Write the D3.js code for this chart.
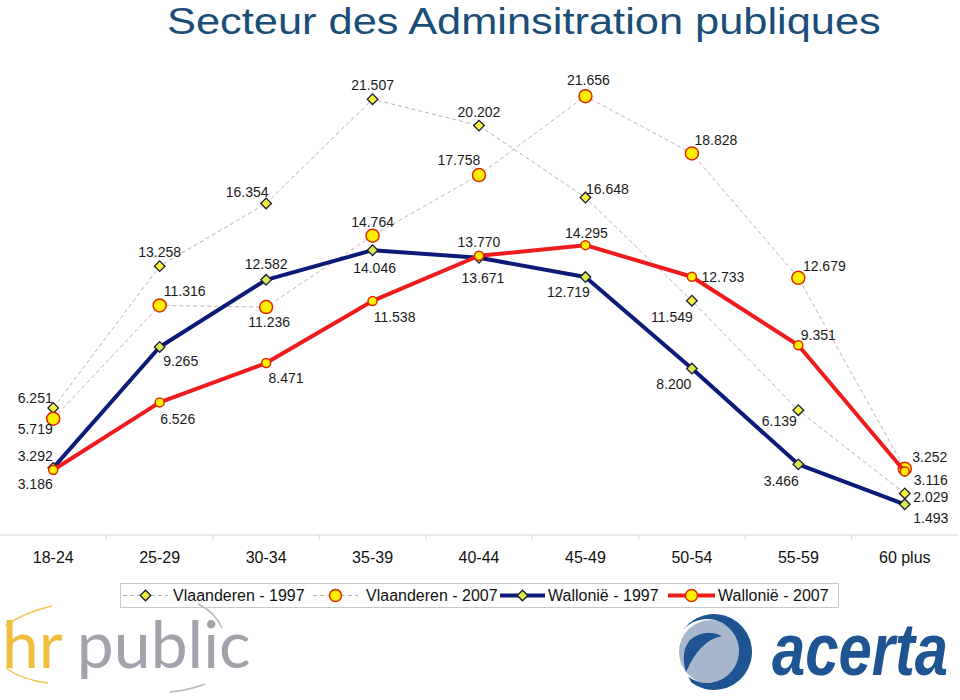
<!DOCTYPE html>
<html>
<head>
<meta charset="utf-8">
<script src="https://cdn.jsdelivr.net/npm/d3@7"></script>
<style>
  html, body { margin: 0; padding: 0; background: #fff; }
  svg { display: block; }
</style>
</head>
<body>
<svg id="chart" width="960" height="700"></svg>
<script>
// ---------- DATA ----------
const categories = ["18-24","25-29","30-34","35-39","40-44","45-49","50-54","55-59","60 plus"];
const vlaanderen1997 = [6.251, 13.258, 16.354, 21.507, 20.202, 16.648, 11.549, 6.139, 2.029];
const vlaanderen2007 = [5.719, 11.316, 11.236, 14.764, 17.758, 21.656, 18.828, 12.679, 3.252];
const wallonie1997   = [3.292, 9.265, 12.582, 14.046, 13.671, 12.719, 8.200, 3.466, 1.493];
const wallonie2007   = [3.186, 6.526, 8.471, 11.538, 13.770, 14.295, 12.733, 9.351, 3.116];
const seriesNames = ["Vlaanderen - 1997", "Vlaanderen - 2007", "Wallonië - 1997", "Wallonië - 2007"];
const titleText = "Secteur des Adminsitration publiques";

// ---------- LABEL PLACEMENT (offsets of value labels from their point) ----------
const labelOffsets = [
  [[-18,-10],[0,-14],[-19,-12],[0,-14],[0,-14],[22,-9],[-20,16],[-19,11],[26,4]],
  [[-18,10],[25,-14],[3,15],[0,-14],[-20,-15],[3,-16],[24,-13],[26,-12],[25,-12]],
  [[-18,-12],[21,14],[0,-16],[2,18],[4,20],[-17,15],[-18,15],[-17,17],[26,14]],
  [[-18,14],[18,17],[20,15],[22,16],[0,-14],[1,-12],[31,0],[20,-10],[26,9]]
];

// ---------- STYLES ----------
const styles = [
  {line: "#b4b4b4", width: 1, dash: "4,3", marker: "diamond", fill: "#f6f43c", stroke: "#1c1c3c", size: 56},
  {line: "#cfb0b0", width: 1, dash: "4,3", marker: "circle", fill: "#ffee00", stroke: "#dd2a00", r: 6.5},
  {line: "#0c1a78", width: 4, dash: null, marker: "diamond", fill: "#d8ea4e", stroke: "#1c1c3c", size: 56},
  {line: "#ee1c1c", width: 4, dash: null, marker: "circle", fill: "#ffee00", stroke: "#dd2a00", r: 4.5}
];
const seriesValues = [vlaanderen1997, vlaanderen2007, wallonie1997, wallonie2007];

const svg = d3.select("#chart");
const font = "'Liberation Sans', Arial, sans-serif";

// fit a text horizontally into a width by scaling its group
function fittedText(parent, tx, ty, width, str, attrs) {
  const g = parent.append("g");
  const t = g.append("text").attr("x", 0).attr("y", 0).text(str);
  Object.entries(attrs).forEach(([k, v]) => t.attr(k, v));
  const w = t.node().getComputedTextLength();
  g.attr("transform", `translate(${tx},${ty}) scale(${width / w},1)`);
  return g;
}

// ---------- SCALES ----------
const x = d3.scaleBand().domain(categories).range([0, 958]).padding(0);
const cx = c => x(c) + x.bandwidth() / 2;
const y = d3.scaleLinear().domain([0, 22]).range([534.5, 89.2]);

// ---------- TITLE ----------
fittedText(svg, 167, 34, 714, titleText, {
  "font-family": "'Liberation Sans', Arial, sans-serif",
  "font-size": 37, "fill": "#1a4e78"
});

// ---------- X AXIS ----------
const axis = d3.axisBottom(x).tickSize(0).tickPadding(17);
const gx = svg.append("g").attr("transform", `translate(0,${y(0)})`).call(axis);
gx.select(".domain").attr("stroke", "#d4d4d4");
gx.selectAll(".tick text").attr("font-family", font).attr("font-size", 16).attr("fill", "#111");
gx.selectAll(".sep").data(categories.slice(1)).enter().append("line")
  .attr("x1", d => x(d)).attr("x2", d => x(d))
  .attr("y1", 0).attr("y2", 5)
  .attr("stroke", "#d4d4d4");

// ---------- SERIES ----------
const line = d3.line().x((d, i) => cx(categories[i])).y(d => y(d));
const fmt = d3.format(".3f");

function drawMarker(g, st, px, py) {
  if (st.marker === "diamond") {
    g.append("path")
      .attr("d", d3.symbol().type(d3.symbolSquare).size(st.size)())
      .attr("transform", `translate(${px},${py}) rotate(45)`)
      .attr("fill", st.fill).attr("stroke", st.stroke).attr("stroke-width", 1.3);
  } else {
    g.append("circle").attr("cx", px).attr("cy", py).attr("r", st.r)
      .attr("fill", st.fill).attr("stroke", st.stroke).attr("stroke-width", 1.5);
  }
}

seriesValues.forEach((vals, s) => {
  const st = styles[s];
  const g = svg.append("g");
  g.append("path").datum(vals).attr("d", line)
    .attr("fill", "none").attr("stroke", st.line).attr("stroke-width", st.width)
    .attr("stroke-dasharray", st.dash).attr("stroke-linejoin", "round");
  vals.forEach((v, i) => drawMarker(g, st, cx(categories[i]), y(v)));
});

const lg = svg.append("g");
seriesValues.forEach((vals, s) => {
  vals.forEach((v, i) => {
    const off = labelOffsets[s][i];
    lg.append("text")
      .attr("x", cx(categories[i]) + off[0])
      .attr("y", y(v) + off[1])
      .attr("dy", "0.36em")
      .attr("text-anchor", "middle")
      .attr("font-family", font).attr("font-size", 14).attr("fill", "#1a1a1a")
      .text(fmt(v));
  });
});

// ---------- LEGEND ----------
const leg = svg.append("g");
leg.append("rect").attr("x", 120.5).attr("y", 583.5).attr("width", 718).attr("height", 24)
  .attr("fill", "#fff").attr("stroke", "#c8c8c8");
const legItems = [
  {x1: 123, x2: 168, tx: 173},
  {x1: 313, x2: 358, tx: 366},
  {x1: 500, x2: 545, tx: 548},
  {x1: 668, x2: 715, tx: 718}
];
legItems.forEach((it, s) => {
  const st = styles[s];
  const ly = 595.5;
  leg.append("line").attr("x1", it.x1).attr("x2", it.x2).attr("y1", ly).attr("y2", ly)
    .attr("stroke", st.line).attr("stroke-width", st.width).attr("stroke-dasharray", st.dash);
  const legSt = Object.assign({}, st, st.marker === "circle" ? {r: 6} : {});
  drawMarker(leg, legSt, (it.x1 + it.x2) / 2, ly);
  leg.append("text").attr("x", it.tx).attr("y", ly).attr("dy", "0.36em")
    .attr("font-family", font).attr("font-size", 16).attr("fill", "#111")
    .text(seriesNames[s]);
});

// ---------- LOGOS ----------
const hr = svg.append("g");
hr.append("path").attr("d", "M5,626 Q25,612 52,606").attr("fill", "none").attr("stroke", "#f0c850").attr("stroke-width", 1.5);
hr.append("path").attr("d", "M6,668 Q22,680 48,683").attr("fill", "none").attr("stroke", "#f0c850").attr("stroke-width", 1.5);
hr.append("path").attr("d", "M198,604 Q215,612 222,628").attr("fill", "none").attr("stroke", "#b8b8be").attr("stroke-width", 1.5);
hr.append("path").attr("d", "M170,692 Q190,690 205,684").attr("fill", "none").attr("stroke", "#b8b8be").attr("stroke-width", 1.5);
const hrText = hr.append("text").attr("x", 2).attr("y", 668)
  .attr("font-family", "Lato, 'Open Sans', sans-serif").attr("font-weight", 400).attr("font-size", 66);
hrText.append("tspan").attr("fill", "#f0be3c").text("hr");
hrText.append("tspan").attr("dx", 14).attr("fill", "#a2a2aa").text("public");

const ac = svg.append("g");
ac.append("circle").attr("cx", 711).attr("cy", 652).attr("r", 32).attr("fill", "#a9b7cd");
(function () {
  const a0 = -2.45, a1 = 2.2;
  const oc = [714, 652], orr = 38, ic = [707, 651], ir = 32;
  const P = (c, r, a) => [c[0] + r * Math.cos(a), c[1] + r * Math.sin(a)];
  const p1 = P(oc, orr, a0), p2 = P(oc, orr, a1), p3 = P(ic, ir, a1), p4 = P(ic, ir, a0);
  const d = `M${p1}A${orr},${orr} 0 1 1 ${p2}L${p3}A${ir},${ir} 0 1 0 ${p4}Z`;
  ac.append("path").attr("d", d).attr("fill", "#1e5492");
  ac.append("path").attr("d", "M690,640 Q705,628 722,636 Q700,640 686,672 Q680,652 690,640Z").attr("fill", "#1e5492");
})();
fittedText(ac, 772, 675, 176, "acerta", {
  "font-family": "'Liberation Sans', Arial, sans-serif", "font-weight": "bold", "font-style": "italic",
  "font-size": 74, "fill": "#1e5492"
});
</script>
</body>
</html>
